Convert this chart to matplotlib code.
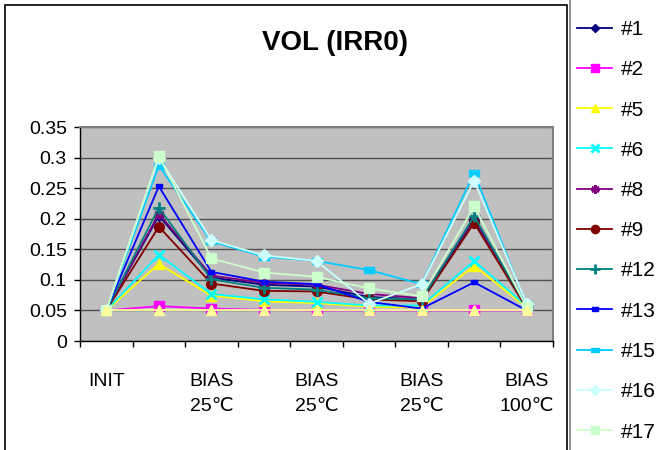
import matplotlib
matplotlib.use("Agg")
import matplotlib.pyplot as plt
from matplotlib.patches import Rectangle

plt.rcParams['font.family'] = ['Liberation Sans', 'DejaVu Sans']

# categories (Excel only shows every other label)
categories = ["INIT", "", "BIAS\n25℃", "", "BIAS\n25℃", "", "BIAS\n25℃", "", "BIAS\n100℃"]

names = ["#1", "#2", "#5", "#6", "#8", "#9", "#12", "#13", "#15", "#16", "#17", "#18"]

s1 = [0.05, 0.205, 0.104, 0.092, 0.089, 0.072, 0.068, 0.198, 0.055]
s2 = [0.05, 0.057, 0.053, 0.051, 0.050, 0.050, 0.050, 0.050, 0.050]
s5 = [0.05, 0.126, 0.074, 0.065, 0.062, 0.056, 0.055, 0.123, 0.055]
s6 = [0.05, 0.141, 0.077, 0.068, 0.064, 0.058, 0.058, 0.131, 0.057]
s8 = [0.05, 0.208, 0.107, 0.095, 0.092, 0.077, 0.070, 0.200, 0.055]
s9 = [0.05, 0.187, 0.094, 0.082, 0.081, 0.068, 0.065, 0.193, 0.053]
s12 = [0.05, 0.218, 0.101, 0.087, 0.084, 0.070, 0.068, 0.204, 0.056]
s13 = [0.05, 0.253, 0.113, 0.097, 0.093, 0.064, 0.053, 0.096, 0.050]
s15 = [0.05, 0.287, 0.163, 0.138, 0.131, 0.116, 0.093, 0.275, 0.058]
s16 = [0.05, 0.300, 0.165, 0.140, 0.131, 0.061, 0.093, 0.262, 0.061]
s17 = [0.05, 0.303, 0.135, 0.112, 0.105, 0.086, 0.073, 0.220, 0.055]
s18 = [0.05, 0.050, 0.050, 0.050, 0.050, 0.050, 0.050, 0.050, 0.050]
series = [s1, s2, s5, s6, s8, s9, s12, s13, s15, s16, s17, s18]

# excel default palette / marker cycle
wide_rect = [(-1, -0.55), (1, -0.55), (1, 0.55), (-1, 0.55), (-1, -0.55)]
colors = ["#000080", "#FF00FF", "#FFFF00", "#00FFFF", "#800080", "#800000",
          "#008080", "#0000FF", "#00CCFF", "#CCFFFF", "#CCFFCC", "#FFFF99"]
markers = ["D", "s", "^", "x", (6, 2, 0), "o", "+", wide_rect, wide_rect, "D", "s", "^"]
msizes = [5, 6.5, 7, 7, 7, 7, 8, 5, 7, 6, 7, 7]

fig = plt.figure(figsize=(6.59, 4.5), dpi=100)
ax = fig.add_axes([80 / 659, 1 - 341 / 450, 473 / 659, 214 / 450])
ax.set_facecolor("#C0C0C0")

x = list(range(len(categories)))
lines = []
for name, ys, c, m, ms in zip(names, series, colors, markers, msizes):
    mew = 2 if isinstance(m, str) and m in ("x", "+") or m == (6, 2, 0) else 1
    ln, = ax.plot(x, ys, color=c, marker=m, markersize=ms, markerfacecolor=c,
                  markeredgecolor=c, markeredgewidth=mew, linewidth=1.3, label=name)
    lines.append(ln)

ax.set_xlim(-0.5, len(categories) - 0.5)
ax.set_ylim(0, 0.35)
ax.set_yticks([0, 0.05, 0.1, 0.15, 0.2, 0.25, 0.3, 0.35])
ax.set_yticklabels(["0", "0.05", "0.1", "0.15", "0.2", "0.25", "0.3", "0.35"])
ax.yaxis.grid(True, color="#505050", linewidth=1.0)
ax.set_axisbelow(True)

ax.set_xticks([i - 0.5 for i in range(len(categories) + 1)])
ax.set_xticklabels([])
ax.set_xticks(x, minor=True)
ax.set_xticklabels(categories, minor=True, fontsize=14, linespacing=1.6)
ax.tick_params(axis="x", which="minor", length=0, pad=23)
ax.tick_params(axis="x", which="major", length=4.5, width=1, color="black")
ax.tick_params(axis="y", length=4.5, width=1, labelsize=14, pad=5)

for side in ("top", "right"):
    ax.spines[side].set_color("#808080")
    ax.spines[side].set_linewidth(1.5)
for side in ("left", "bottom"):
    ax.spines[side].set_color("black")
    ax.spines[side].set_linewidth(1)

fig.text(335 / 659, 1 - 43 / 450, "VOL (IRR0)", fontsize=20, fontweight="bold",
         ha="center", va="center")

# chart frame and legend box (both run off the cropped image)
fig.add_artist(Rectangle((4.5 / 659, -0.1), (566.5 - 4.5) / 659, 1 - 5.3 / 450 + 0.1,
                         transform=fig.transFigure, fill=False, edgecolor="black", linewidth=1.2))
fig.add_artist(Rectangle((569.5 / 659, -0.1), 0.3, 1.2, transform=fig.transFigure,
                         facecolor="white", edgecolor="#808080", linewidth=1.2))

fig.legend(handles=lines[:11], loc="upper left", bbox_to_anchor=(577 / 659, 1 - 20 / 450),
           frameon=False, fontsize=15, handlelength=1.7, handletextpad=0.4,
           labelspacing=1.02, borderpad=0, borderaxespad=0, markerscale=0.85)

fig.savefig("out.png", dpi=100)
